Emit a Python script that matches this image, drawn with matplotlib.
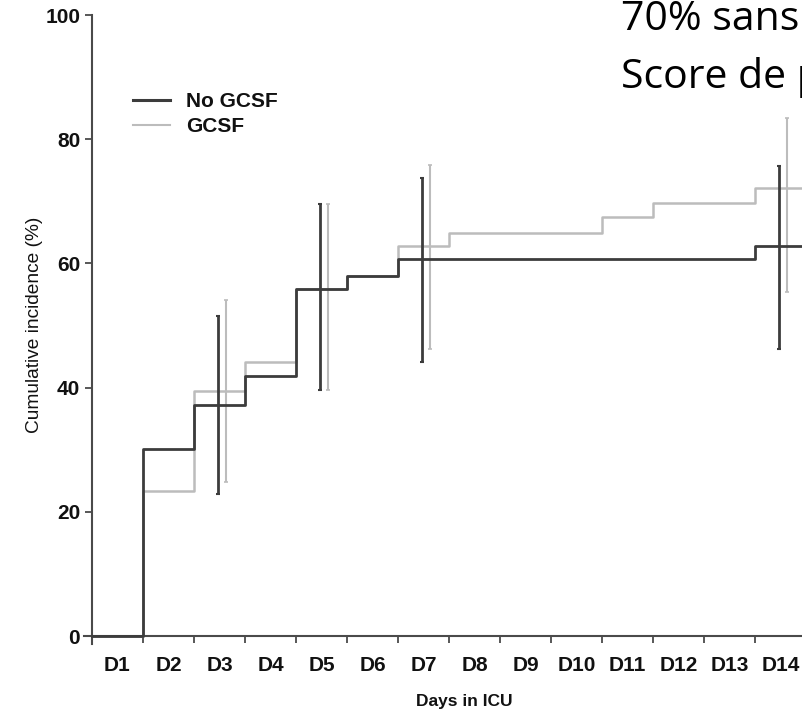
import matplotlib
matplotlib.use("Agg")
import matplotlib.pyplot as plt
from matplotlib.lines import Line2D

# ---------------- data ----------------
day_labels = ["D1", "D2", "D3", "D4", "D5", "D6", "D7", "D8", "D9", "D10",
              "D11", "D12", "D13", "D14"]

# step change points (day boundary index) and cumulative incidence (%)
nogcsf_x = [0, 1, 2, 3, 4, 5, 6, 13, 14]
nogcsf_y = [0, 30.1, 37.2, 41.9, 55.9, 58.0, 60.7, 62.8, 62.8]

gcsf_x = [0, 1, 2, 3, 4, 5, 6, 7, 10, 11, 13, 14]
gcsf_y = [0, 23.3, 39.5, 44.1, 55.9, 58.0, 62.8, 64.9, 67.5, 69.8, 72.2, 72.2]

# confidence intervals at selected days
ci_days = [3, 5, 7, 14]
nogcsf_ci_low = [22.8, 39.6, 44.1, 46.3]
nogcsf_ci_high = [51.5, 69.5, 73.7, 75.7]
gcsf_ci_low = [24.8, 39.6, 46.2, 55.4]
gcsf_ci_high = [54.1, 69.5, 75.8, 83.4]

y_ticks = [0, 20, 40, 60, 80, 100]

# ---------------- style ----------------
DARK = "#3c3c3c"
LIGHT = "#bcbcbc"
AXC = "#4a4a4a"
FONT = "Liberation Sans"

fig = plt.figure(figsize=(8.03, 7.11), dpi=100)
ax = fig.add_axes([0.105, 0.0949, 0.895, 0.884])

ax.step(gcsf_x, gcsf_y, where="post", color=LIGHT, lw=1.8, zorder=2)
ax.step(nogcsf_x, nogcsf_y, where="post", color=DARK, lw=2.0, zorder=3)

xd = [d - 0.5 - 0.03 for d in ci_days]
xg = [d - 0.5 + 0.12 for d in ci_days]
mid_d = [(l + h) / 2 for l, h in zip(nogcsf_ci_low, nogcsf_ci_high)]
err_d = [(h - l) / 2 for l, h in zip(nogcsf_ci_low, nogcsf_ci_high)]
mid_g = [(l + h) / 2 for l, h in zip(gcsf_ci_low, gcsf_ci_high)]
err_g = [(h - l) / 2 for l, h in zip(gcsf_ci_low, gcsf_ci_high)]
ax.errorbar(xg, mid_g, yerr=err_g, fmt="none", ecolor=LIGHT, elinewidth=1.5,
            capsize=1.5, capthick=1.2, zorder=2)
ax.errorbar(xd, mid_d, yerr=err_d, fmt="none", ecolor=DARK, elinewidth=2.0,
            capsize=1.5, capthick=1.5, zorder=4)

ax.set_xlim(-0.15, 13.94)
ax.set_ylim(-1.2, 100)

for s in ["top", "right"]:
    ax.spines[s].set_visible(False)
ax.spines["left"].set_position(("data", 0))
ax.spines["bottom"].set_position(("data", 0))
for s in ["left", "bottom"]:
    ax.spines[s].set_color(AXC)
    ax.spines[s].set_linewidth(1.5)

ax.set_yticks(y_ticks)
ax.set_yticklabels([str(v) for v in y_ticks], fontsize=15, fontweight="bold",
                   family=FONT, color="#111111")
ax.tick_params(axis="y", direction="out", length=5, width=1.3, color=AXC, pad=3.5)

ax.set_xticks(range(0, len(day_labels)))
ax.set_xticklabels([])
ax.tick_params(axis="x", which="major", direction="out", length=5, width=1.3, color=AXC)
ax.set_xticks([i + 0.5 for i in range(len(day_labels))], minor=True)
ax.set_xticklabels(day_labels, minor=True, fontsize=15, fontweight="bold",
                   family=FONT, color="#111111")
ax.tick_params(axis="x", which="minor", length=0, pad=14)

ax.set_xlabel("Days in ICU", fontsize=12.5, fontweight="bold", family=FONT,
              color="#111111")
ax.xaxis.set_label_coords(0.528, -0.081)
ax.set_ylabel("Cumulative incidence (%)", fontsize=13.8, family=FONT,
              color="#111111")
ax.yaxis.set_label_coords(-0.0575, 0.507)

handles = [Line2D([], [], color=DARK, lw=2.2), Line2D([], [], color=LIGHT, lw=1.5)]
leg = ax.legend(handles, ["No GCSF", "GCSF"], loc="upper left",
                bbox_to_anchor=(133 / 803, 1 - 92 / 711), bbox_transform=fig.transFigure,
                frameon=False, borderpad=0, borderaxespad=0, handlelength=1.8,
                handletextpad=0.75, labelspacing=0.28,
                prop={"family": FONT, "size": 15, "weight": "bold"})
for t in leg.get_texts():
    t.set_color("#111111")

# overlay slide text (cropped at the right edge, as in the reference)
fig.text(621 / 803, 1 - 30 / 711, "70% sans", fontsize=29.5, family="Open Sans",
         color="black", ha="left", va="baseline")
fig.text(621 / 803, 1 - 88 / 711, "Score de p", fontsize=29.5, family="Open Sans",
         color="black", ha="left", va="baseline")

fig.savefig("out.png", dpi=100)
